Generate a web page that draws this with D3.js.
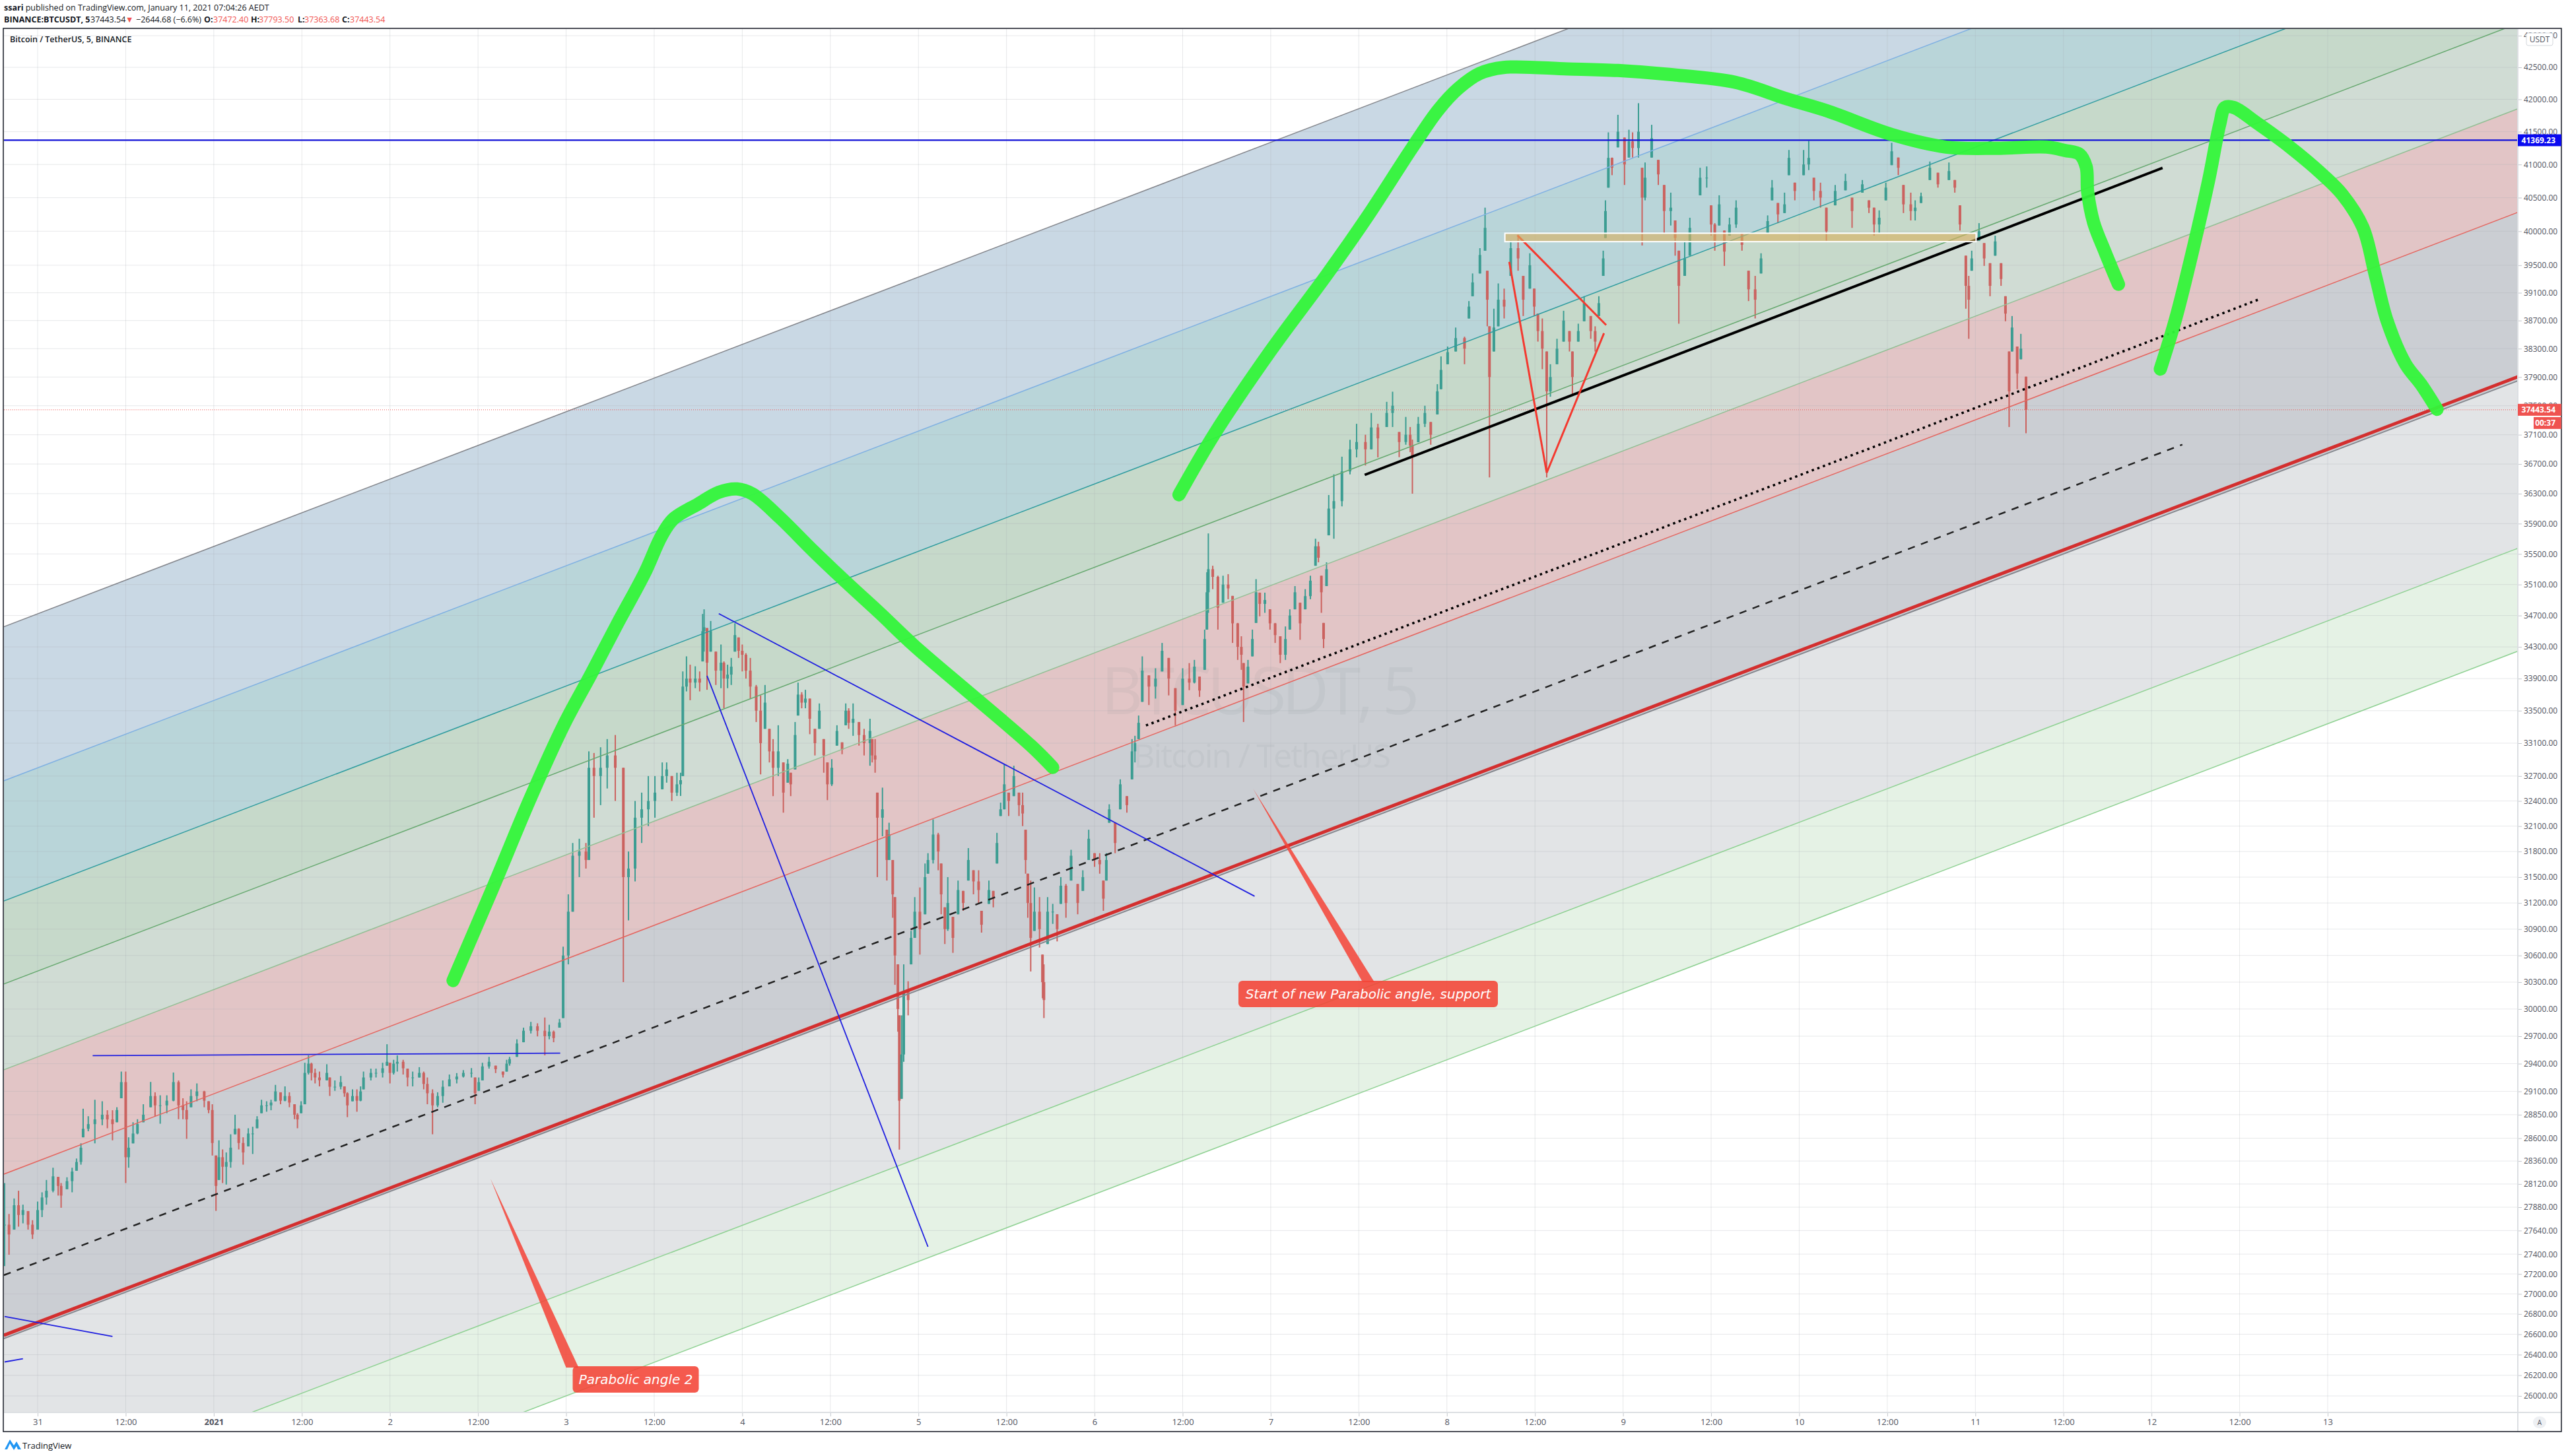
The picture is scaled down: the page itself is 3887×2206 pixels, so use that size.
<!DOCTYPE html>
<html>
<head>
<meta charset="utf-8">
<title>BTCUSDT</title>
<script src="https://cdn.jsdelivr.net/npm/d3@7"></script>
<style>
  html, body { margin: 0; padding: 0; background: #fff; }
  svg { display: block; }
  text { font-family: "Open Sans", "Noto Sans", sans-serif; }
</style>
</head>
<body>
<div id="chart"></div>
<script>
// hours are counted from 31 Dec 2020 00:00, prices are USDT
const priceTicks = [43000, 42500, 42000, 41500, 41000, 40500, 40000, 39500, 39100, 38700, 38300, 37900, 37500, 37100, 36700, 36300, 35900, 35500, 35100, 34700, 34300, 33900, 33500, 33100, 32700, 32400, 32100, 31800, 31500, 31200, 30900, 30600, 30300, 30000, 29700, 29400, 29100, 28850, 28600, 28360, 28120, 27880, 27640, 27400, 27200, 27000, 26800, 26600, 26400, 26200, 26000];
const hourTicks = [0, 12, 24, 36, 48, 60, 72, 84, 96, 108, 120, 132, 144, 156, 168, 180, 192, 204, 216, 228, 240, 252, 264, 276, 288, 300, 312];
const hourLabels = ['31', '12:00', '2021', '12:00', '2', '12:00', '3', '12:00', '4', '12:00', '5', '12:00', '6', '12:00', '7', '12:00', '8', '12:00', '9', '12:00', '10', '12:00', '11', '12:00', '12', '12:00', '13'];

// fib channel rails, price at the left and right chart edge
const railHours = [-4.6, 337.9];
const railNames = ['top', 'blue', 'teal', 'green', 'pale', 'red', 'mid', 'base', 'low', 'ext1', 'ext2'];
const railLeft = [34557, 32643, 31223, 30279, 29333, 28223, 27188, 26590, 26558, 24955, 24017];
const railRight = [49309, 46578, 44553, 43194, 41853, 40280, 38766, 37903, 37847, 35573, 34245];
const bandFrom = ['top', 'blue', 'teal', 'green', 'pale', 'red', 'low', 'ext1'];
const bandTo = ['blue', 'teal', 'green', 'pale', 'red', 'low', 'ext1', 'ext2'];

const lastPrice = 37443.54;
const markedPrice = 41369.23;

// [hour, high, low, close]
const candlesDec30 = [
  [-4.5,28130,27280,27700],[-3.9,27810,27394,27600],[-3.2,27970,27650,27900],[-2.6,28050,27680,27800],[-2.0,27906,27714,27850],[-1.3,27840,27650,27700],[-0.7,27746,27554,27600]
];
const candlesDec31 = [
  [0,27938,27650,27850],[0.6,28034,27778,27980],[1.2,28162,27906,28050],[2.1,28290,28034,28200],[2.8,28194,28000,28100],[3.2,28130,27874,28000],[4,28190,28066,28150],[4.7,28290,28034,28250],[5.3,28386,28258,28350],[5.9,28546,28322,28500],[6.2,28914,28610,28700],[6.9,28834,28674,28750],[7.8,29010,28546,28800],[8.8,28994,28738,28850],[9.5,28898,28706,28800],[10.2,28898,28578,28750],[10.8,28930,28770,28900],[11.4,29314,29026,29200],[12,29314,28130,28400],[12.4,28610,28290,28500],[13,28770,28546,28650],[13.6,28802,28642,28750],[14.4,28962,28770,28850],[15.4,29202,28930,29050],[16,29090,28834,28950],[16.7,29058,28754,28950],[17.6,29058,28866,29000],[18.5,29304,28994,29200],[19.2,29218,28802,28950],[19.8,29026,28802,28900],[20.3,28994,28594,28800],[20.9,29122,28930,29050],[21.7,29186,28994,29100],[22.7,29106,28930,29000],[23.3,28994,28866,28900],[23.8,28962,28418,28550]
];
const candlesJan1 = [
  [24.3,28418,27842,28100],[24.7,28578,28162,28400],[25.2,28482,28130,28300],[25.7,28450,28114,28350],[26.3,28642,28290,28500],[26.9,28850,28642,28700],[27.4,28706,28482,28550],[28,28610,28322,28450],[28.7,28706,28514,28650],[29.3,28722,28434,28650],[29.9,28834,28706,28800],[30.5,29010,28866,28950],[31.2,28994,28882,28950],[31.8,29010,28898,28980],[32.4,29170,28994,29100],[33.1,29090,28962,29000],[33.7,29154,28994,29050],[34.3,29090,28930,28980],[35,28962,28802,28850],[35.4,28866,28706,28800],[35.9,28994,28866,28950],[36.4,29410,28962,29300],[36.9,29490,29282,29400],[37.3,29410,29218,29300],[37.8,29346,29186,29250],[38.4,29314,29154,29220],[39.4,29394,29218,29300],[39.8,29250,29051,29150],[40.5,29218,29106,29150],[41.3,29266,29122,29200],[41.8,29154,29042,29080],[42.2,29090,28824,28950],[42.9,29122,28994,29050],[43.5,29122,28882,29000],[44,29154,28994,29100],[44.4,29314,29122,29250],[45.4,29346,29218,29300],[46.1,29346,29250,29300],[47,29410,29250,29350],[47.6,29612,29378,29420]
];
const candlesJan2 = [
  [48,29410,29186,29300],[48.5,29442,29282,29400],[49,29490,29314,29420],[49.8,29442,29282,29350],[50.4,29346,29154,29250],[51.1,29314,29154,29250],[52,29362,29250,29300],[52.6,29314,29122,29180],[53.1,29250,28962,29080],[53.8,29122,28642,28950],[54.5,29090,28930,29050],[55.2,29218,28978,29150],[56.1,29282,29154,29230],[57.1,29298,29186,29260],[58,29330,29250,29300],[59.1,29352,29250,29300],[59.6,29250,28962,29080],[60.1,29250,29106,29200],[60.6,29410,29218,29370],[61.5,29474,29346,29420],[62.4,29378,29298,29340],[63.4,29314,29250,29280],[63.9,29442,29314,29400],[64.3,29474,29378,29450],[65.3,29666,29474,29620],[66.2,29794,29634,29760],[67.2,29858,29730,29810],[68.1,29842,29698,29760],[69.1,29906,29490,29700],[69.7,29826,29666,29750],[70.3,29762,29634,29680],[71.1,29890,29794,29850],[71.6,30700,29900,30600]
];
const candlesJan3 = [
  [72.3,31300,30500,31100],[72.9,31900,31100,31750],[73.8,31950,31500,31800],[74.7,31900,31600,31700],[75.1,33000,31700,32800],[75.8,32980,32200,32700],[76.7,33050,32350,32800],[77.6,33150,32550,32950],[78.7,33200,32400,32800],[79.8,32800,30300,31500],[80.5,31800,31000,31600],[81.4,32400,31450,32200],[82.3,32500,31900,32300],[83.2,32700,32100,32400],[84.1,32700,32200,32500],[85.1,32865,32540,32700],[85.7,32865,32620,32780],[86.4,32700,32400,32500],[87.1,32740,32460,32600],[87.6,32740,32460,32650],[87.9,33990,32700,33800],[88.4,34180,33740,33900],[88.9,34075,33630,33850],[89.6,34055,33780,33900],[90.2,33990,33740,33850],[90.6,34720,34116,34500],[90.8,34780,34240,34550],[91.2,34540,33760,34100],[91.7,34630,34240,34500],[92.4,34240,33820,34000],[93.1,34330,33780,34100],[93.5,34116,33530,33900],[94,34075,33780,33950],[94.5,34160,33820,34050],[95,34600,34240,34450],[95.5,34420,34160,34250]
];
const candlesJan4 = [
  [96,34330,33990,34200],[96.5,34220,33900,34000],[97.1,34160,33650,33800],[97.9,33820,33360,33500],[98.5,33690,32720,33100],[99.1,33820,33276,33600],[99.7,33276,32865,33000],[100.2,33150,32458,32800],[100.9,33320,32700,33000],[101.6,32865,32260,32500],[102.2,32905,32620,32850],[102.6,32740,32458,32600],[103.2,33360,32780,33200],[103.6,33850,33440,33700],[104.1,33730,33530,33600],[104.6,33760,33530,33650],[105.2,33650,33210,33400],[105.9,33276,32950,33100],[106.5,33590,33276,33500],[107.1,33150,32740,32950],[107.6,32865,32410,32600],[108.2,32905,32580,32800],[108.9,33320,33070,33250],[109.6,33110,32965,33020],[110.1,33590,33320,33500],[110.5,33530,33276,33350],[111.1,33590,33190,33400],[111.9,33360,33070,33200],[112.6,33276,32950,33100],[113.4,33400,32825,33250],[113.7,33150,32865,32950],[114.1,33150,32740,32900],[114.4,32500,31500,32200],[115.1,32560,31980,32300],[115.7,32057,31460,31700],[116,32140,31700,32000],[116.5,31700,31030,31300],[116.8,31268,30270,30600],[117.2,30500,29750,30000],[117.4,29930,28480,29000],[117.7,29930,29020,29500],[118,30500,29420,30200],[118.6,30310,29930,30100],[119,30880,30500,30800],[119.5,31268,30800,31100]
];
const candlesJan5 = [
  [120.2,31380,30610,30900],[120.9,31659,31070,31500],[121.3,31780,31540,31700],[122,32180,31659,32000],[122.7,32020,31580,31800],[123.1,31659,31070,31300],[123.6,31150,30730,30900],[124,31500,30880,31200],[124.7,31040,30630,30800],[125.4,31460,31070,31350],[126.1,31340,31110,31200],[126.8,31840,31460,31700],[127.5,31580,31300,31450],[128.2,31580,31190,31350],[128.6,31110,30860,30950],[129.6,31460,31190,31350],[130.2,31340,31150,31250],[130.7,32020,31659,31900],[131.2,32380,32220,32300],[131.7,32845,32300,32600],[132.3,32500,32220,32400],[133,32825,32458,32700],[133.7,32500,32220,32350],[134.2,32500,32100,32250],[134.6,32057,31540,31700],[134.9,31540,31030,31200],[135.3,31460,30420,30800],[135.8,31380,30880,31100],[136.5,31268,30690,30900],[136.9,30610,30120,30300],[137.1,30500,29900,30100],[137.6,31268,30730,31100],[138.3,31190,30960,31100],[138.9,31070,30760,30900],[139.4,31500,31190,31400],[140.1,31420,31030,31200],[140.8,31820,31460,31750],[141.7,31420,31070,31200],[142.4,31580,31340,31500],[143.2,32057,31700,31950]
];
const candlesJan6 = [
  [144,31780,31620,31700],[144.7,31780,31540,31650],[145.2,31460,31110,31250],[145.6,31780,31460,31700],[146,32360,32140,32300],[146.8,32140,31780,31900],[147.5,32660,32300,32600],[148.4,32458,32260,32350],[149.1,33150,32660,33000],[149.5,33190,32865,33100],[150,33440,33150,33350],[150.5,34180,33610,34000],[151.4,33940,33570,33800],[152.3,34030,33650,33900],[153.2,34350,33990,34250],[154.1,34160,33690,33900],[155,33780,33320,33500],[156,34030,33570,33900],[156.9,34095,33755,33850],[157.6,34135,33840,34050],[158.3,33925,33672,33750],[159,34520,34010,34400],[159.3,35260,34520,35000],[159.5,35770,34735,35300],[160.1,35345,35040,35200],[160.8,35215,34520,34800],[161.5,35215,34865,35100],[162.2,35235,34910,35050],[162.8,34953,34350,34600],[163.5,34605,34135,34300],[164,34435,34010,34200],[164.3,34095,33360,33800],[164.9,34135,33840,34050],[165.5,34520,34180,34400],[166,35170,34605,35000],[166.5,34995,34690,34850],[167.2,34995,34735,34900],[167.9,34780,34520,34600]
];
const candlesJan7 = [
  [168.6,34605,34350,34450],[169.3,34435,34095,34200],[170,34560,34135,34400],[170.6,34780,34520,34700],[171.3,35080,34780,35000],[172,34865,34390,34600],[172.7,35040,34780,34950],[173.4,35215,34910,35150],[174.1,35700,35345,35600],[174.5,35660,35390,35450],[174.9,35215,34735,35000],[175.2,34605,34285,34400],[175.6,35390,35080,35300],[175.9,36282,35745,36100],[176.6,36560,35700,36200],[177.7,36800,36130,36600],[178.8,37030,36560,36900],[179.7,37250,36790,37000],[180.9,37100,36680,36900],[181.7,37400,36900,37200],[182.6,37250,36790,37050],[183.8,37554,37206,37400],[184.6,37695,37206,37500],[185.5,37137,36793,37000],[186.4,37345,36963,37100],[187,37206,36861,36950],[187.3,37033,36300,36800],[188.1,37345,36997,37250],[189,37500,37206,37400],[189.8,37275,36963,37100],[190.7,37800,37380,37700],[191.2,38190,37730,38000]
];
const candlesJan8 = [
  [192.1,38330,38080,38250],[193.2,38600,38260,38450],[194.4,38470,38080,38300],[195,38980,38730,38900],[195.5,39380,39050,39250],[196.5,39750,39380,39650],[197.2,40350,39713,40050],[197.5,39420,38618,39000],[197.8,38618,36519,37900],[198.4,38870,38260,38600],[199,39235,38618,39000],[199.8,39160,38730,38900],[200.7,39860,39345,39750],[201.7,39935,39420,39600],[202.4,39345,38765,39000],[203.3,39675,39160,39500],[203.9,39160,38765,38900],[204.4,38800,38400,38550],[205,38730,38010,38300],[205.6,38260,36519,37700],[206.1,38080,37625,37900],[207,38440,38080,38300],[207.9,38840,38400,38700],[208.7,38550,38260,38400],[209.1,38260,37660,37900],[209.9,38655,38400,38550],[210.7,39050,38690,38950],[211.6,38765,38440,38550],[212.2,38618,38260,38400],[212.7,39050,38765,38950],[213.3,39713,39345,39600],[213.6,40460,39900,40300],[214,41490,40650,41100],[214.5,41105,40838,40950],[215.3,41760,41260,41500]
];
const candlesJan9 = [
  [216.2,41410,40690,41000],[216.8,41530,41105,41350],[217.3,41490,41105,41250],[218.1,41940,41105,41500],[218.6,40950,39790,40500],[219,41030,40460,40800],[219.9,41606,41105,41400],[220.8,41070,40690,40850],[221.6,40690,39975,40300],[222.5,40575,40085,40350],[223.1,40160,39640,39900],[223.6,39713,38655,39200],[224.4,39860,39345,39600],[225.1,40200,39640,40050],[226.5,40950,40535,40800],[227.4,40970,40650,40800],[228,40385,39935,40100],[228.5,40120,39713,39850],[229.1,40535,40085,40400],[229.8,40010,39490,39700],[230.5,40200,39935,40100],[231.4,40460,40050,40350],[232.2,39975,39713,39800],[233.1,39420,38980,39150],[234,39345,38730,39000],[234.8,39675,39380,39600],[235.7,40235,39975,40150],[236.3,40765,40460,40650],[237.1,40420,40120,40250],[238,40575,40270,40400],[238.6,41220,40838,41100],[239.4,40725,40460,40600]
];
const candlesJan10 = [
  [240.6,41220,40838,41000],[241.3,41360,40915,41100],[242,40800,40460,40600],[242.9,40725,40350,40500],[243.7,40350,39860,40000],[244.9,40690,40385,40600],[246.3,40860,40610,40750],[247.2,40500,40050,40300],[248.6,40765,40575,40700],[249.5,40460,40270,40350],[250.2,40350,39935,40100],[250.9,40310,39975,40200],[251.8,40725,40460,40650],[252.6,41330,40990,41200],[253.5,41105,40838,40950],[254.2,40690,40270,40400],[255.2,40575,40160,40300],[255.8,40460,40160,40350],[256.6,40575,40420,40520],[257.8,41045,40765,40950],[258.9,40875,40650,40700],[260.4,41030,40765,40900],[261.2,40765,40575,40650],[261.9,40385,40010,40100],[262.7,39640,38870,39200],[263.1,39345,38440,39000],[263.5,39713,39420,39600]
];
const candlesJan11 = [
  [264.5,40120,39860,40000],[265.2,39825,39490,39600],[266,39530,39050,39200],[266.7,39935,39640,39850],[267.5,39530,39200,39300],[268.1,39050,38690,38800],[268.6,38260,37206,37700],[269,38765,38260,38600],[269.7,38330,37730,37950],[270.2,38510,38150,38300],[270.9,37905,37120,37443.54]
];

// hand drawn green curves
const greenHours1 = [56.6, 62.1, 67.1, 71.7, 75.4, 79, 82.7, 85, 86.6, 90, 92.8, 95.3, 97.4, 101.1, 105.7, 110.3, 114.8, 119.4, 135.3, 138.3];
const greenPrices1 = [30318, 31392, 32427, 33327, 33955, 34596, 35248, 35737, 35961, 36162, 36319, 36364, 36296, 35982, 35537, 35118, 34726, 34317, 33072, 32804];
const greenHours2 = [155.5, 160.3, 167.9, 175.6, 181.2, 187.2, 190.8, 193.6, 196.5, 199.7, 208.5, 215.3, 222.3, 231.3, 238.3, 244, 252.6, 260, 267, 273.7, 276.2, 278.2, 279.1, 279.3, 280.1, 281.7, 283.5];
const greenPrices2 = [36285, 37106, 38257, 39357, 40222, 41243, 41832, 42174, 42405, 42498, 42475, 42450, 42388, 42264, 42007, 41813, 41457, 41265, 41246, 41265, 41213, 41155, 40964, 40585, 40133, 39685, 39222];
const greenHours3 = [289.2, 291.3, 293.7, 295.8, 297.3, 298, 299.2, 302.3, 306.8, 311.3, 314, 316.8, 318.5, 320.1, 322.6, 324.7, 326.9];
const greenPrices3 = [38012, 38730, 39757, 40770, 41618, 41873, 41873, 41639, 41270, 40846, 40545, 40056, 39352, 38694, 38084, 37800, 37449];

// trend lines, [hour, price, hour, price]
const blueLines = [
  [7.5, 29487, 71.2, 29515],
  [-4.5, 26776, 10.2, 26579],
  [-4.5, 26329, -2, 26361],
  [92.8, 34724, 165.8, 31278],
  [91.2, 33936, 121.3, 27475]
];
const blackLine = [180.8, 36553, 289.5, 40947];
const dottedLine = [151, 33317, 302.6, 39003];
const midLineEnd = [292.2, 36965];
const redLines = [
  [201.6, 39941, 213.7, 38636],
  [200.5, 39549, 205.6, 36582],
  [205.6, 36582, 213.4, 38519]
];
const zoneRange = [199.9, 39970, 264.1, 39846];

const noteTexts = ['Parabolic angle 2', 'Start of new Parabolic angle, support'];
const noteTips = [[61.7, 28174], [165.6, 32547]];
const noteBoxes = [[72.9, 26159], [163.6, 30167]];

const width = 3887, height = 2206;
const plot = {left: 6, right: 3814, top: 44, bottom: 2140};
const frame = {right: 3880, bottom: 2169};

const x = d3.scaleLinear().domain([0, 312]).range([57, 3526]);
const y = d3.scaleLog().domain([26000, 42500]).range([2115, 102]);

const svg = d3.select('#chart').append('svg').attr('width', width).attr('height', height);

svg.append('clipPath').attr('id', 'plot-clip').append('rect')
  .attr('x', plot.left).attr('y', plot.top)
  .attr('width', plot.right - plot.left).attr('height', plot.bottom - plot.top);

const chart = svg.append('g').attr('clip-path', 'url(#plot-clip)');

// bands
const railPrice = name => [railLeft[railNames.indexOf(name)], railRight[railNames.indexOf(name)]];
const bandColors = ['#c9d8e4', '#b9d5d9', '#c6d9ca', '#d0dcd4', '#e2c5c6', '#cbced3', '#e2e4e6', '#e5f2e5'];
const band = d3.area().x(d => x(d.h)).y0(d => y(d.p0)).y1(d => y(d.p1));
chart.append('g').selectAll('path').data(bandFrom).join('path')
  .attr('d', (d, i) => {
    const a = railPrice(d), b = railPrice(bandTo[i]);
    return band(railHours.map((h, k) => ({h, p0: a[k], p1: b[k]})));
  })
  .attr('fill', (d, i) => bandColors[i]);

// grid
chart.append('g').selectAll('line').data(hourTicks).join('line')
  .attr('x1', d => x(d)).attr('x2', d => x(d))
  .attr('y1', plot.top).attr('y2', plot.bottom)
  .attr('stroke', '#a9adb5').attr('stroke-opacity', 0.28);
chart.append('g').selectAll('line').data(priceTicks).join('line')
  .attr('x1', plot.left).attr('x2', plot.right)
  .attr('y1', d => y(d)).attr('y2', d => y(d))
  .attr('stroke', '#a9adb5').attr('stroke-opacity', 0.28);

// watermark
chart.append('text').attr('x', 1909).attr('y', 1082).attr('text-anchor', 'middle')
  .attr('font-size', 98).attr('textLength', 482).attr('fill', '#7c8089').attr('fill-opacity', 0.09)
  .text('BTCUSDT, 5');
chart.append('text').attr('x', 1912).attr('y', 1163).attr('text-anchor', 'middle')
  .attr('font-size', 50).attr('textLength', 390).attr('fill', '#7c8089').attr('fill-opacity', 0.09)
  .text('Bitcoin / TetherUS');

// candles
const candles = [].concat(candlesDec30, candlesDec31, candlesJan1, candlesJan2, candlesJan3, candlesJan4, candlesJan5, candlesJan6, candlesJan7, candlesJan8, candlesJan9, candlesJan10, candlesJan11)
  .map((d, i, all) => {
    const prev = i ? all[i - 1][3] : d[3];
    return {h: d[0], high: d[1], low: d[2], close: d[3], open: Math.max(d[2], Math.min(d[1], prev))};
  });
const candleColor = d => d.close >= d.open ? '#3c9d92' : '#cb625f';
const candleG = chart.append('g');
candleG.selectAll('line').data(candles).join('line')
  .attr('x1', d => x(d.h)).attr('x2', d => x(d.h))
  .attr('y1', d => y(d.high)).attr('y2', d => y(d.low))
  .attr('stroke', candleColor).attr('stroke-width', 2);
candleG.selectAll('rect').data(candles).join('rect')
  .attr('x', d => x(d.h) - 2)
  .attr('width', 4)
  .attr('y', d => y(Math.max(d.open, d.close)))
  .attr('height', d => Math.max(1, Math.abs(y(d.open) - y(d.close))))
  .attr('fill', candleColor);

// rails, drawn over the series as in the original
const railColors = {top: '#84868c', blue: '#7fb0e2', teal: '#2f9c9f', green: '#66a86f', pale: '#93bf95', red: '#e4655f', low: '#86888f', ext1: '#8ed192', ext2: '#8ed192', base: '#d32f2f'};
const railWidths = {low: 2, base: 5};
const segment = d3.line().x(d => x(d[0])).y(d => y(d[1]));
chart.append('g').selectAll('path').data(railNames.filter(d => d !== 'mid')).join('path')
  .attr('d', d => segment(railHours.map((h, k) => [h, railPrice(d)[k]])))
  .attr('fill', 'none')
  .attr('stroke', d => railColors[d])
  .attr('stroke-width', d => railWidths[d] || 1.5);

chart.append('path')
  .attr('d', segment([[railHours[0], railPrice('mid')[0]], midLineEnd]))
  .attr('fill', 'none').attr('stroke', '#222').attr('stroke-width', 2.5).attr('stroke-dasharray', '11 10');

// price lines
chart.append('line').attr('x1', plot.left).attr('x2', plot.right)
  .attr('y1', y(lastPrice)).attr('y2', y(lastPrice))
  .attr('stroke', '#ef5350').attr('stroke-width', 1).attr('stroke-dasharray', '1 2');
chart.append('line').attr('x1', plot.left).attr('x2', plot.right)
  .attr('y1', y(markedPrice)).attr('y2', y(markedPrice))
  .attr('stroke', '#1212d8').attr('stroke-width', 2.2);

// drawings
const two = d => [[d[0], d[1]], [d[2], d[3]]];
chart.append('g').selectAll('path').data(blueLines).join('path')
  .attr('d', d => segment(two(d))).attr('fill', 'none').attr('stroke', '#1f1fe0').attr('stroke-width', 1.8);
chart.append('path').attr('d', segment(two(blackLine))).attr('fill', 'none').attr('stroke', '#000').attr('stroke-width', 4);
chart.append('path').attr('d', segment(two(dottedLine))).attr('fill', 'none').attr('stroke', '#000')
  .attr('stroke-width', 3.5).attr('stroke-dasharray', '3.5 5.5');
chart.append('g').selectAll('path').data(redLines).join('path')
  .attr('d', d => segment(two(d))).attr('fill', 'none').attr('stroke', '#f4392f').attr('stroke-width', 3);
chart.append('rect')
  .attr('x', x(zoneRange[0])).attr('y', y(zoneRange[1]))
  .attr('width', x(zoneRange[2]) - x(zoneRange[0])).attr('height', y(zoneRange[3]) - y(zoneRange[1]))
  .attr('fill', '#d9b060').attr('fill-opacity', 0.62).attr('stroke', '#fff').attr('stroke-width', 2);

// green curves
const curve = d3.line().x(d => x(d[0])).y(d => y(d[1])).curve(d3.curveCatmullRom);
[[greenHours1, greenPrices1], [greenHours2, greenPrices2], [greenHours3, greenPrices3]].forEach(([hs, ps]) => {
  chart.append('path').attr('d', curve(hs.map((h, i) => [h, ps[i]])))
    .attr('fill', 'none').attr('stroke', '#33f53a').attr('stroke-opacity', 0.95)
    .attr('stroke-width', 20).attr('stroke-linecap', 'round').attr('stroke-linejoin', 'round');
});

// callouts
const noteWidths = [191, 393];
const noteBase = [[-10, 9], [188, 206]];
const notes = chart.append('g');
noteTexts.forEach((t, i) => {
  const bx = x(noteBoxes[i][0]), cy = y(noteBoxes[i][1]), top = cy - 20;
  notes.append('path')
    .attr('d', `M${x(noteTips[i][0])},${y(noteTips[i][1])}L${bx + noteBase[i][0]},${top + 2}L${bx + noteBase[i][1]},${top + 2}Z`)
    .attr('fill', '#f44336').attr('fill-opacity', 0.85);
  notes.append('rect').attr('x', bx).attr('y', top).attr('width', noteWidths[i]).attr('height', 40).attr('rx', 6)
    .attr('fill', '#f44336').attr('fill-opacity', 0.88);
  notes.append('text').attr('x', bx + noteWidths[i] / 2).attr('y', cy + 7).attr('text-anchor', 'middle')
    .attr('font-size', 20).attr('font-style', 'italic').attr('fill', '#fff')
    .style('font-family', '"DejaVu Sans", sans-serif')
    .text(t);
});

// axes
const yAxis = d3.axisRight(y).tickValues(priceTicks).tickFormat(d3.format('.2f')).tickSize(6).tickPadding(3);
const yG = svg.append('g').attr('transform', `translate(${plot.right},0)`).call(yAxis);
yG.select('.domain').remove();
yG.selectAll('line').attr('stroke', '#c4c7cc');
yG.selectAll('text').attr('font-size', 12).attr('fill', '#50535e');

const xAxis = d3.axisBottom(x).tickValues(hourTicks).tickFormat((d, i) => hourLabels[i]).tickSize(6).tickPadding(4);
const xG = svg.append('g').attr('transform', `translate(0,${plot.bottom})`).call(xAxis);
xG.select('.domain').remove();
xG.selectAll('line').attr('stroke', '#c4c7cc');
xG.selectAll('text').attr('font-size', 13).attr('fill', '#50535e')
  .attr('font-weight', (d, i) => hourLabels[i] === '2021' ? 700 : 400);

svg.append('line').attr('x1', plot.right).attr('x2', plot.right).attr('y1', plot.top).attr('y2', frame.bottom)
  .attr('stroke', '#dcdfe3').attr('stroke-width', 2);
svg.append('line').attr('x1', plot.left).attr('x2', frame.right).attr('y1', plot.bottom).attr('y2', plot.bottom)
  .attr('stroke', '#dcdfe3').attr('stroke-width', 2);
svg.append('rect').attr('x', 5).attr('y', 43).attr('width', frame.right - 5).attr('height', frame.bottom - 43)
  .attr('fill', 'none').attr('stroke', '#131722').attr('stroke-width', 1.5);

// price labels
const priceLabel = (text, fill, left, yCenter, h) => {
  svg.append('rect').attr('x', left).attr('y', yCenter - h / 2).attr('width', frame.right - left).attr('height', h).attr('fill', fill);
  svg.append('text').attr('x', frame.right - 9).attr('y', yCenter + 4.5).attr('text-anchor', 'end')
    .attr('font-size', 12).attr('font-weight', 700).attr('fill', '#fff').text(text);
};
priceLabel(d3.format('.2f')(markedPrice), '#0a0af0', plot.right, y(markedPrice), 18);
priceLabel(d3.format('.2f')(lastPrice), '#ef5350', plot.right, y(lastPrice), 18);
priceLabel('00:37', '#ef5350', 3838, y(lastPrice) + 20, 18);

// corner controls
svg.append('rect').attr('x', 3827).attr('y', 50).attr('width', 40).attr('height', 19).attr('rx', 3)
  .attr('fill', '#fff').attr('stroke', '#d4d7dc');
svg.append('text').attr('x', 3847).attr('y', 64).attr('text-anchor', 'middle').attr('font-size', 12).attr('fill', '#50535e').text('USDT');
svg.append('rect').attr('x', 3837).attr('y', 2146).attr('width', 20).attr('height', 18).attr('rx', 9).attr('fill', '#eef0f3');
svg.append('text').attr('x', 3847).attr('y', 2159).attr('text-anchor', 'middle').attr('font-size', 10).attr('fill', '#50535e').text('A');

// header
svg.append('text').attr('x', 6).attr('y', 16).attr('font-size', 12.5).attr('fill', '#131722')
  .html('<tspan font-weight="700">ssari</tspan> published on TradingView.com, January 11, 2021 07:04:26 AEDT');

const headerRed = '#f05350';
const headerParts = [
  ['BINANCE:BTCUSDT, 5', 6, '#131722', 700],
  ['37443.54', 137, '#131722', 400],
  ['\u25BC', 190, headerRed, 400],
  ['\u22122644.68 (\u22126.6%)', 206, '#131722', 400],
  ['O:', 309, '#131722', 700],
  ['37472.40', 323, headerRed, 400],
  ['H:', 380, '#131722', 700],
  ['37793.50', 392, headerRed, 400],
  ['L:', 451, '#131722', 700],
  ['37363.68', 461, headerRed, 400],
  ['C:', 518, '#131722', 700],
  ['37443.54', 530, headerRed, 400]
];
svg.append('g').selectAll('text').data(headerParts).join('text')
  .attr('x', d => d[1]).attr('y', 34).attr('font-size', 12.5)
  .attr('fill', d => d[2]).attr('font-weight', d => d[3]).text(d => d[0]);

svg.append('text').attr('x', 15).attr('y', 64).attr('font-size', 12.5).attr('font-weight', 600).attr('fill', '#131722')
  .text('Bitcoin / TetherUS, 5, BINANCE');

// footer logo
svg.append('path').attr('d', 'M7,2196L15,2181L21,2190L25,2184L32,2196L27,2196L25,2191L21,2197L15,2187L11,2196Z').attr('fill', '#2196f3');
svg.append('text').attr('x', 34).attr('y', 2195).attr('font-size', 13).attr('fill', '#131722').text('TradingView');
</script>
</body>
</html>
